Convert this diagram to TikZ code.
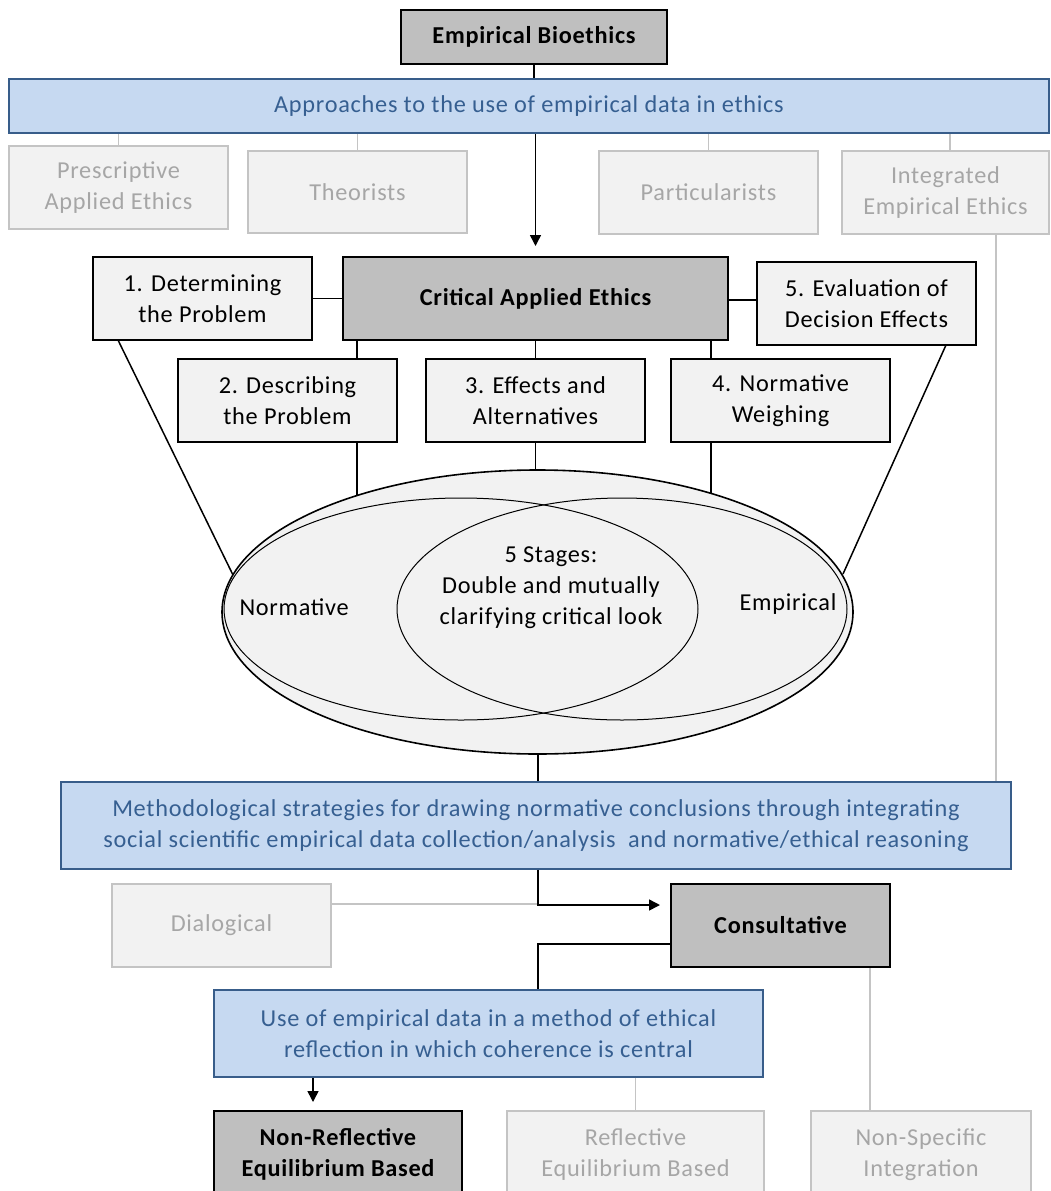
\documentclass[tikz,border=0pt]{standalone}
\usepackage{fontspec}
\setmainfont{Carlito}[LetterSpace=3]
\usetikzlibrary{arrows.meta,shapes.geometric}
\definecolor{bluefill}{RGB}{198,217,241}
\definecolor{bluedraw}{RGB}{56,93,138}
\definecolor{bluetext}{RGB}{54,95,145}
\definecolor{lightfill}{RGB}{242,242,242}
\definecolor{darkfill}{RGB}{191,191,191}
\definecolor{ghostdraw}{RGB}{196,196,196}
\definecolor{ghosttext}{RGB}{166,166,166}
\begin{document}
\begin{tikzpicture}[x=1pt,y=-1pt,
  font=\fontsize{24.3}{31}\selectfont,
  base/.style={rectangle, align=center, inner sep=0pt},
  darkbox/.style={base, fill=darkfill, draw=black, line width=2pt, font=\fontsize{24.3}{31}\selectfont\bfseries},
  stepbox/.style={base, fill=lightfill, draw=black, line width=1.5pt},
  bluebar/.style={base, fill=bluefill, draw=bluedraw, line width=1.6pt, text=bluetext},
  ghost/.style={base, fill=lightfill, draw=ghostdraw, line width=2pt, text=ghosttext},
  link/.style={draw=black, line width=1.5pt},
  ghostlink/.style={draw=ghostdraw, line width=1.5pt},
  arr/.style={link, -{Triangle[length=11pt,width=11pt]}},
  ring/.style={draw=black, line width=1pt},
]
\clip (0,0) rectangle (1050,1191);
\useasboundingbox (0,0) rectangle (1050,1191);

% top of the hierarchy
\node[darkbox, minimum width=266pt, minimum height=54pt] (eb) at (534,37) {Empirical Bioethics};
\node[bluebar, minimum width=1040pt, minimum height=54pt] (app) at (529,106) {Approaches to the use of empirical data in ethics};

\node[ghost, minimum width=219pt, minimum height=83pt] (pre) at (118.5,187.5) {Prescriptive\\Applied Ethics};
\node[ghost, minimum width=219pt, minimum height=82pt] (the) at (357.5,192) {Theorists};
\node[ghost, minimum width=219pt, minimum height=83pt] (par) at (708.5,192.5) {Particularists};
\node[ghost, minimum width=207pt, minimum height=83pt] (int) at (945.5,192.5) {Integrated\\Empirical Ethics};

% critical applied ethics and its five stages
\node[darkbox, minimum width=385pt, minimum height=83pt] (cae) at (535.5,298.5) {Critical Applied Ethics};
\node[stepbox, minimum width=219pt, minimum height=83pt] (s1) at (202.5,298.5) {1. Determining\\the Problem};
\node[stepbox, minimum width=219pt, minimum height=83pt] (s5) at (866.5,303.5) {5. Evaluation of\\Decision Effects};
\node[stepbox, minimum width=219pt, minimum height=83pt] (s2) at (287.5,400.5) {2. Describing\\the Problem};
\node[stepbox, minimum width=219pt, minimum height=83pt] (s3) at (535.5,400.5) {3. Effects and\\Alternatives};
\node[stepbox, minimum width=219pt, minimum height=83pt] (s4) at (780.5,400.5) {4. Normative\\Weighing};

% the double critical look
\node[ellipse, draw=black, line width=1.6pt, fill=lightfill, inner sep=0pt,
      minimum width=631pt, minimum height=284pt] (look) at (537.5,612) {};
\draw[ring] (461,609) ellipse [x radius=237pt, y radius=111pt];
\draw[ring] (622,609) ellipse [x radius=225pt, y radius=111pt];
\node[anchor=west] (norm) at (236,607) {Normative};
\node (emp) at (788,604) {Empirical};
\node[align=center] (stages) at (551,588) {5 Stages:\\Double and mutually\\clarifying critical look};

\coordinate (x2) at (357,0);
\coordinate (x4) at (711,0);
\coordinate (e1) at (233,575);
\coordinate (e2) at (357,495.5);
\coordinate (e4) at (711,493.5);
\coordinate (e5) at (843,574);
\coordinate (t1) at (118,340);
\coordinate (t5) at (946,345);

% methodological strategies
\node[bluebar, minimum width=950pt, minimum height=87pt] (meth) at (536,825.5)
  {Methodological strategies for drawing normative conclusions through integrating\\social scientific empirical data collection/analysis\ \ and normative/ethical reasoning};

\node[ghost, minimum width=219pt, minimum height=83pt] (dia) at (221.5,925.5) {Dialogical};
\node[darkbox, minimum width=219pt, minimum height=83pt] (cons) at (780.5,925.5) {Consultative};

\node[bluebar, minimum width=549pt, minimum height=87pt] (use) at (488.5,1033.5)
  {Use of empirical data in a method of ethical\\reflection in which coherence is central};

\node[darkbox, minimum width=248pt, minimum height=87pt] (nr) at (338,1154.5) {Non-Reflective\\Equilibrium Based};
\node[ghost, minimum width=257pt, minimum height=87pt] (ref) at (635.5,1154.5) {Reflective\\Equilibrium Based};
\node[ghost, minimum width=220pt, minimum height=87pt] (ns) at (921,1154.5) {Non-Specific\\Integration};

\coordinate (mx) at (538,0);
\coordinate (ax) at (313,0);
\coordinate (nx) at (870,0);
\coordinate (ix) at (996,0);
\coordinate (gx) at (950,0);

% grey links to approaches not taken
\draw[ghostlink] (pre.north) -- (pre.north |- app.south);
\draw[ghostlink] (the.north) -- (the.north |- app.south);
\draw[ghostlink] (par.north) -- (par.north |- app.south);
\draw[ghostlink] (int.north -| gx) -- (app.south -| gx);
\draw[ghostlink] (int.south -| ix) -- (meth.north -| ix);
\draw[ghostlink] ([yshift=21.5pt]dia.east) -- ([yshift=21.5pt]dia.east -| mx);
\draw[ghostlink] (ref.north) -- (ref.north |- use.south);
\draw[ghostlink] (cons.south -| nx) -- (ns.north -| nx);

% main path
\draw[link] (eb.south) -- (eb.south |- app.north);
\draw[arr] (cae.north |- app.south) -- ([yshift=10pt]cae.north);
\draw[link] (s1.east) -- (s1.east -| cae.west);
\draw[link] (cae.east |- s5.west) ++(0,-3.5) coordinate (c5) -- (c5 -| s5.west);
\draw[link] (cae.south -| x2) -- (s2.north -| x2);
\draw[link] (cae.south) -- (s3.north);
\draw[link] (cae.south -| x4) -- (s4.north -| x4);
\draw[link] (s2.south -| x2) -- (e2);
\draw[link] (s3.south) -- (s3.south |- look.north);
\draw[link] (s4.south -| x4) -- (e4);
\draw[link] (t1) -- (e1);
\draw[link] (t5) -- (e5);
\draw[link] (look.south -| mx) -- (meth.north -| mx);
\draw[arr] (meth.south -| mx) |- ([xshift=-10pt,yshift=20.5pt]cons.west);
\draw[link] ([yshift=-18.5pt]cons.west) -| (use.north -| mx);
\draw[arr] (use.south -| ax) -- ([yshift=8pt]nr.north -| ax);
\end{tikzpicture}
\end{document}
